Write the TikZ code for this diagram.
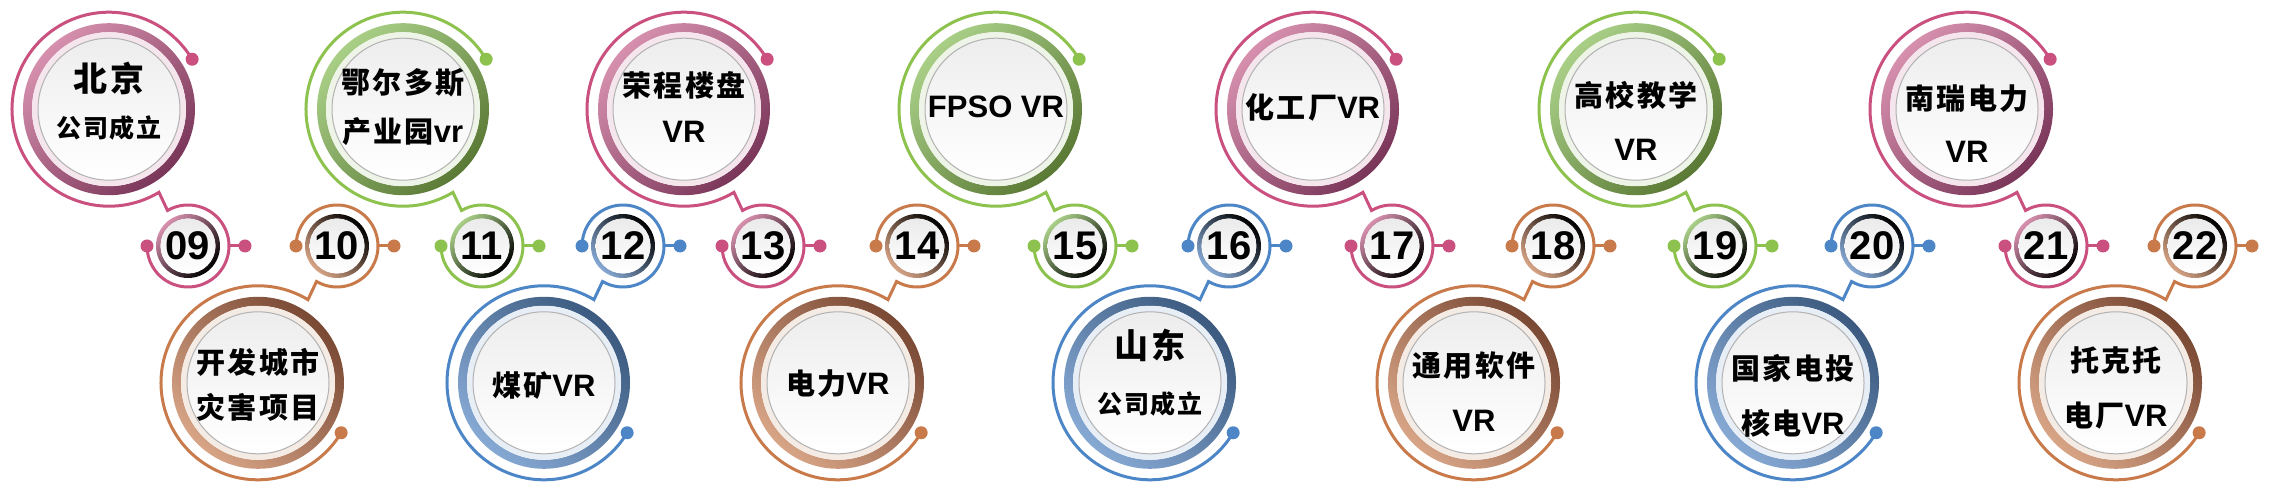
\documentclass[tikz,border=0pt]{standalone}
\usepackage{fontspec}
\usetikzlibrary{calc}
\newfontfamily\cjkfont{Noto Sans CJK SC}[LetterSpace=7]
\newfontfamily\numfont{Liberation Sans}
\newcommand\lat{\numfont\fontsize{31}{36}\selectfont}
\newcommand\hd{\fontsize{34}{40}\selectfont}
\newcommand\sm{\fontsize{25}{30}\selectfont}
\definecolor{pk}{HTML}{C9507F}\definecolor{pkL}{HTML}{D690AE}\definecolor{pkD}{HTML}{7A3659}\definecolor{pkP}{HTML}{F4E6EC}
\definecolor{gn}{HTML}{8CC24D}\definecolor{gnL}{HTML}{A9CF87}\definecolor{gnD}{HTML}{5A7935}\definecolor{gnP}{HTML}{EEF4E7}
\definecolor{og}{HTML}{C97A4B}\definecolor{ogL}{HTML}{D7A486}\definecolor{ogD}{HTML}{7A4934}\definecolor{ogP}{HTML}{F4EBE5}
\definecolor{bl}{HTML}{4D86C6}\definecolor{blL}{HTML}{86A9D4}\definecolor{blD}{HTML}{3C5A7F}\definecolor{blP}{HTML}{E8EEF6}
\begin{document}
\begin{tikzpicture}[x=1pt,y=1pt,
    txt/.style={font=\cjkfont\bfseries\fontsize{29}{34}\selectfont,inner sep=0pt},
    numtxt/.style={font=\numfont\bfseries\fontsize{40}{40}\selectfont,inner sep=0pt},
    ring/.style={draw=#1,line width=3pt}]
  \useasboundingbox (0,0) rectangle (2289,495);
  \foreach \n/\x/\col/\sg/\la/\ya/\lb/\yb in {
      09/188/pk/1/{\hd 北京}/31/{\sm 公司成立}/-19,
      10/337/og/-1/开发城市/20/灾害项目/-25,
      11/482/gn/1/鄂尔多斯/26/产业园{\lat vr}/-22,
      12/623/bl/-1/煤矿{\lat VR}/-3/{}/0,
      13/763/pk/1/荣程楼盘/24/{\lat VR}/-23,
      14/917/og/-1/电力{\lat VR}/-1/{}/0,
      15/1075/gn/1/{\lat FPSO VR}/2/{}/0,
      16/1229/bl/-1/{\hd 山东}/37/{\sm 公司成立}/-21,
      17/1392/pk/1/化工厂{\lat VR}/2/{}/0,
      18/1553/og/-1/通用软件/17/{\lat VR}/-38,
      19/1715/gn/1/高校教学/14/{\lat VR}/-41,
      20/1872/bl/-1/国家电投/14/核电{\lat VR}/-41,
      21/2046/pk/1/南瑞电力/11/{\lat VR}/-43,
      22/2195/og/-1/托克托/22/电厂{\lat VR}/-33}{
    \coordinate (s\n) at (\x,249);
    \coordinate (b\n) at ($(s\n)+(-79,\sg*136.8)$);
    % outer line: big ring, link, small ring
    \draw[ring=\col] ($(b\n)+(\sg*31:97)$) arc[start angle=\sg*31,end angle=\sg*301,radius=97]
      -- ($(s\n)+(\sg*120:41)$) arc[start angle=\sg*120,end angle=-\sg*180,radius=41];
    \draw[ring=\col] ($(s\n)+(0:41)$) -- ($(s\n)+(0:57)$);
    \fill[\col] ($(b\n)+(\sg*31:97)$) circle (6.5) ($(s\n)+(180:41)$) circle (6.5)
      ($(s\n)+(0:57)$) circle (6.5);
    % big disc
    \shade[even odd rule,top color=\col L,bottom color=\col D,shading angle=90-45*\sg]
      (b\n) circle (86) circle (77);
    \fill[\col P] (b\n) circle (77);
    \shade[top color=gray!14,bottom color=white] (b\n) circle (71);
    \draw[gray!60,line width=1pt] (b\n) circle (71);
    % small disc
    \shade[even odd rule,top color=\col L,bottom color=black,shading angle=90-45*\sg]
      (s\n) circle (32) circle (27.5);
    \shade[top color=gray!16,bottom color=white] (s\n) circle (27.5);
    \node[numtxt] (n\n) at (s\n) {\n};
    \node[txt] (ta\n) at ($(b\n)+(0,\ya)$) {\la};
    \node[txt] (tb\n) at ($(b\n)+(0,\yb)$) {\lb};
  }
\end{tikzpicture}
\end{document}
